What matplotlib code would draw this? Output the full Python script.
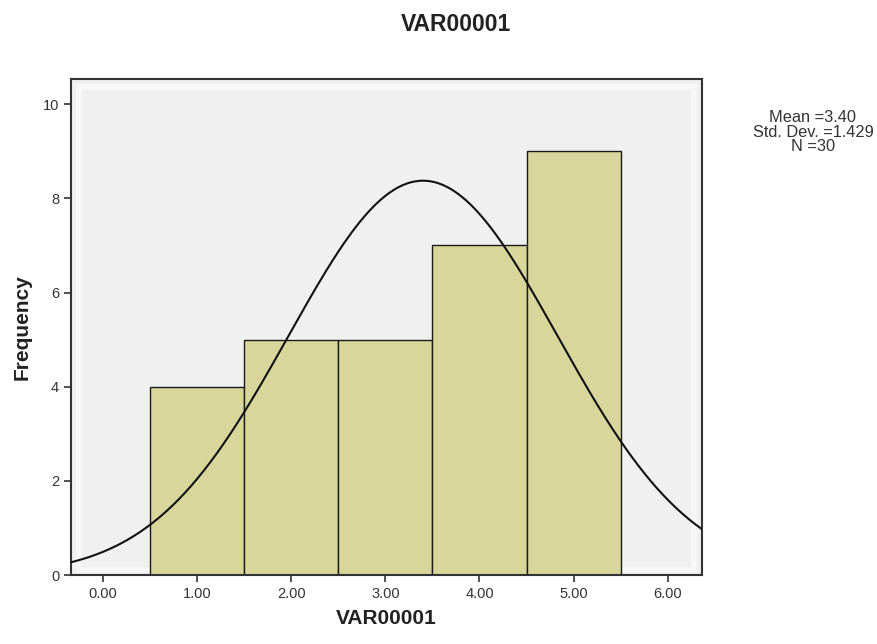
import numpy as np
import matplotlib
matplotlib.use("Agg")
import matplotlib.pyplot as plt
from matplotlib.patches import Rectangle

plt.rcParams['font.family'] = ['Liberation Sans', 'DejaVu Sans']

# histogram data (bin centres and counts)
bin_centers = [1.0, 2.0, 3.0, 4.0, 5.0]
counts = [4, 5, 5, 7, 9]
bin_width = 1.0
mean_val = 3.40
std_val = 1.429
n_val = 30
x_ticks = [0, 1, 2, 3, 4, 5, 6]
y_ticks = [0, 2, 4, 6, 8, 10]

fig = plt.figure(figsize=(8.77, 6.44), dpi=100)
ax = fig.add_axes([0.081, 0.107, 0.719, 0.770])
ax.set_facecolor('#f0f0f0')

# slightly lighter inner frame like the SPSS chart background
ax.add_patch(Rectangle((0.012, 0.01), 0.976, 0.975, transform=ax.transAxes,
                       fill=False, edgecolor='#f8f8f8', linewidth=4, zorder=0))

ax.bar(bin_centers, counts, width=bin_width, color='#d8d69b',
       edgecolor='#1a1a1a', linewidth=1.0, zorder=2)

# fitted normal curve, scaled to counts
xs = np.linspace(-0.34, 6.36, 300)
ys = n_val * bin_width / (std_val * np.sqrt(2 * np.pi)) * np.exp(-0.5 * ((xs - mean_val) / std_val) ** 2)
ax.plot(xs, ys, color='#111111', linewidth=1.5, zorder=3)

ax.set_xlim(-0.34, 6.36)
ax.set_ylim(0, 10.53)
ax.set_xticks(x_ticks)
ax.set_xticklabels([f"{t:.2f}" for t in x_ticks])
ax.set_yticks(y_ticks)
ax.tick_params(axis='both', direction='out', length=5, width=1.2, color='#333333',
               labelsize=10.5, labelcolor='#333333')

for side in ['left', 'bottom', 'top', 'right']:
    ax.spines[side].set_color('#333333')
    ax.spines[side].set_linewidth(1.5)

ax.set_xlabel('VAR00001', fontsize=15, fontweight='bold', color='#222222', labelpad=6)
ax.set_ylabel('Frequency', fontsize=15, fontweight='bold', color='#222222', labelpad=8)

fig.text(0.52, 0.962, 'VAR00001', ha='center', va='center', fontsize=16.5,
         fontweight='bold', color='#222222')

fig.text(0.927, 0.795, f"Mean ={mean_val:.2f}\nStd. Dev. ={std_val:.3f}\nN ={n_val}",
         ha='center', va='center', fontsize=11.8, color='#333333', linespacing=0.92)

fig.savefig('out.png', dpi=100, facecolor='white')
